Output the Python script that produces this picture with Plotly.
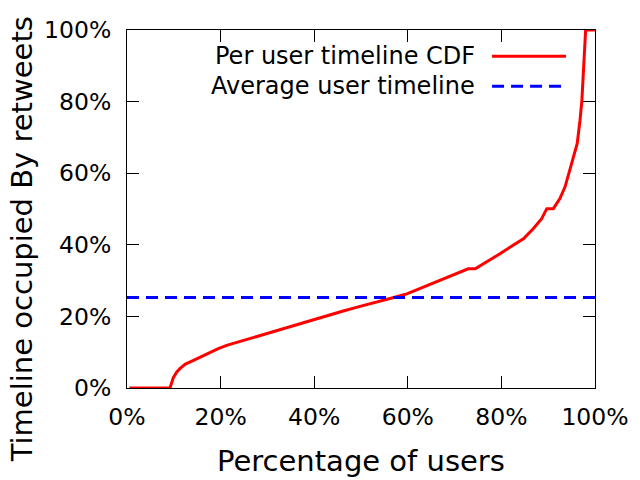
import plotly.graph_objects as go

# Data (fractions)
users_pct = [0.005, 0.092, 0.099, 0.106, 0.113, 0.124, 0.142, 0.160, 0.177, 0.195,
             0.213, 0.249, 0.284, 0.320, 0.355, 0.391, 0.427, 0.462, 0.498, 0.526,
             0.562, 0.598, 0.640, 0.669, 0.697, 0.729, 0.744, 0.769, 0.797, 0.825,
             0.847, 0.868, 0.886, 0.897, 0.911, 0.925, 0.936, 0.947, 0.957, 0.962,
             0.968, 0.972, 0.980, 1.0]
timeline_frac = [0.0, 0.0, 0.029, 0.044, 0.054, 0.066, 0.077, 0.089, 0.100, 0.110,
                 0.119, 0.133, 0.147, 0.161, 0.175, 0.189, 0.203, 0.215, 0.228, 0.237,
                 0.250, 0.263, 0.286, 0.301, 0.315, 0.333, 0.333, 0.352, 0.375, 0.399,
                 0.417, 0.445, 0.473, 0.501, 0.501, 0.529, 0.562, 0.613, 0.664, 0.683,
                 0.748, 0.804, 1.0, 1.0]
average_value = 0.253
tick_vals = [0, 0.2, 0.4, 0.6, 0.8, 1.0]
tick_text = ["0%", "20%", "40%", "60%", "80%", "100%"]
legend_labels = ["Per user timeline CDF", "Average user timeline"]
x_title = "Percentage of users"
y_title = "Timeline occupied By retweets"

FONT = "DejaVu Sans"

fig = go.Figure()
fig.add_trace(go.Scatter(x=users_pct, y=timeline_frac, mode="lines",
                         line=dict(color="#ff0000", width=3), showlegend=False,
                         name=legend_labels[0]))
fig.add_trace(go.Scatter(x=[0, 1], y=[average_value, average_value], mode="lines",
                         line=dict(color="#0000ff", width=3, dash="12px,7px"),
                         showlegend=False, name=legend_labels[1]))

axis_common = dict(range=[0, 1], tickvals=tick_vals, ticktext=tick_text,
                   ticks="inside", ticklen=12, tickwidth=1, tickcolor="black",
                   showline=True, linecolor="black", linewidth=1, mirror="allticks",
                   showgrid=False, zeroline=False,
                   tickfont=dict(family=FONT, size=23.5, color="black"))

fig.update_layout(
    width=640, height=480,
    margin=dict(l=127, r=45, t=30, b=92),
    paper_bgcolor="white", plot_bgcolor="white",
    xaxis=dict(**axis_common, ticklabelstandoff=8),
    yaxis=dict(**axis_common, ticklabelstandoff=10),
)

# axis titles (positioned like the gnuplot original)
fig.add_annotation(x=0.5, y=-0.203, xref="paper", yref="paper", text=x_title,
                   showarrow=False, xanchor="center", yanchor="middle",
                   font=dict(family=FONT, size=29, color="black"))
fig.add_annotation(x=-0.2244, y=0.4154, xref="paper", yref="paper", text=y_title,
                   showarrow=False, xanchor="center", yanchor="middle", textangle=-90,
                   font=dict(family=FONT, size=29, color="black"))

# manual gnuplot-style legend (text right-aligned, sample on the right)
leg_y = [0.927, 0.843]
styles = [dict(color="#ff0000", width=3), dict(color="#0000ff", width=3, dash="12px,7px")]
for lab, yy, st in zip(legend_labels, leg_y, styles):
    fig.add_annotation(x=0.748, y=yy, xref="paper", yref="paper", text=lab,
                       showarrow=False, xanchor="right", yanchor="middle",
                       font=dict(family=FONT, size=24, color="black"))
    fig.add_shape(type="line", xref="paper", yref="paper", x0=0.78, x1=0.938,
                  y0=yy, y1=yy, line=st)

fig.write_html("out.html")
